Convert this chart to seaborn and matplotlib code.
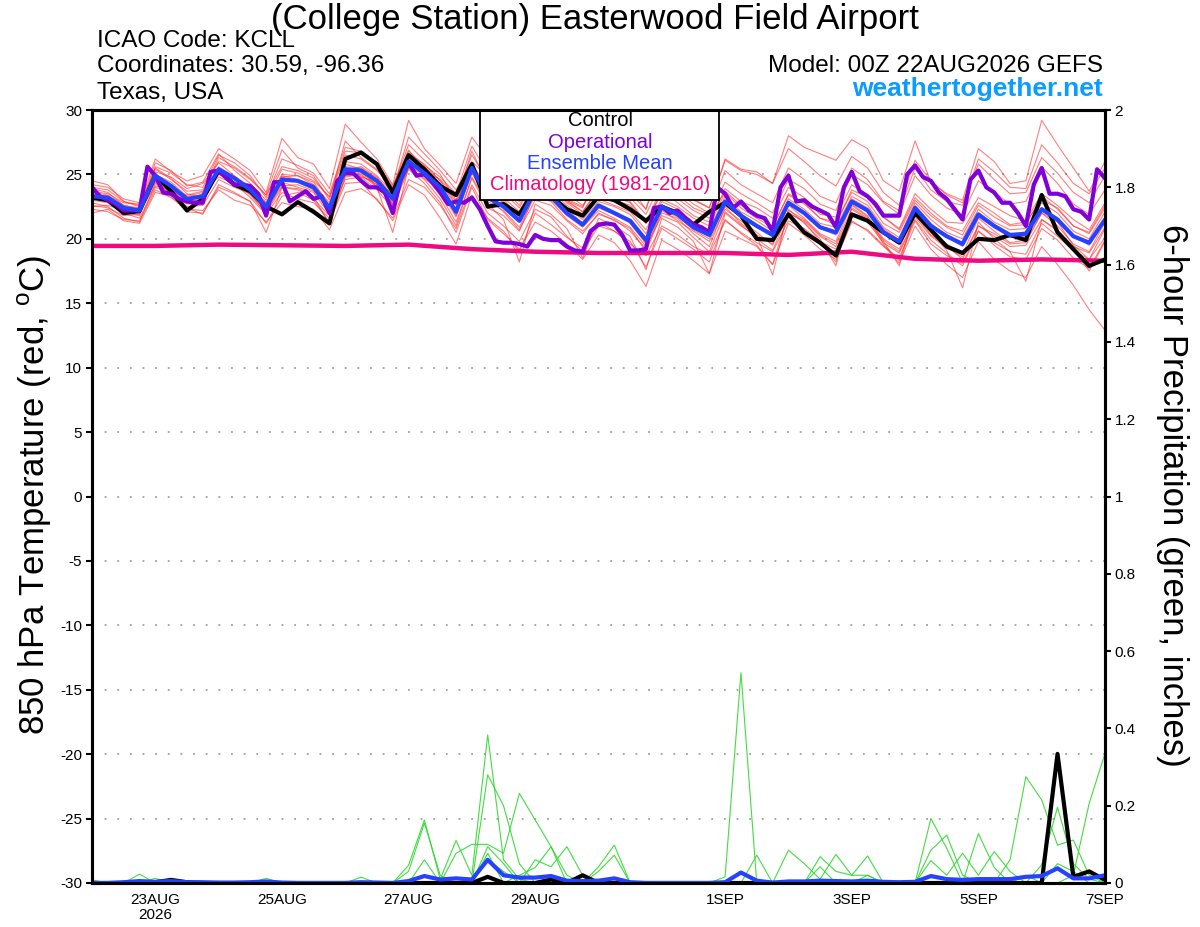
import numpy as np
import pandas as pd
import matplotlib
matplotlib.use('Agg')
import matplotlib.pyplot as plt
from matplotlib.patches import Rectangle
import seaborn as sns

# forecast times: GEFS every 6 h, operational every 3 h, climatology daily
steps = pd.date_range('2026-08-22 00:00', periods=65, freq='6h')
op_steps = pd.date_range('2026-08-22 00:00', periods=129, freq='3h')
clim_days = pd.date_range('2026-08-22', periods=17, freq='D')

ctrl_temp = [23.2, 23.0, 22.0, 22.15, 24.9, 23.7, 22.2, 23.1, 25.3, 24.2, 23.7, 22.5, 21.9, 22.85, 22.1, 21.2,
             26.2, 26.7, 25.8, 23.6, 26.5, 25.4, 24.1, 23.4, 25.8, 22.5, 22.7, 21.9, 23.9, 23.3, 22.3, 21.8,
             23.3, 23.0, 22.3, 21.4, 22.5, 22.0, 21.1, 22.1, 22.8, 21.8, 20.0, 19.9, 21.9, 20.5, 19.7, 18.7,
             21.9, 21.4, 20.5, 19.7, 22.0, 20.7, 19.4, 18.9, 20.0, 19.9, 20.3, 19.9, 23.4, 20.5, 19.2, 17.9, 18.4]

mean_temp = [23.3, 23.2, 22.4, 22.2, 24.9, 24.1, 23.1, 23.3, 25.4, 24.7, 23.8, 22.5, 24.6, 24.5, 24.0, 22.4,
             25.4, 25.3, 24.5, 23.1, 26.0, 25.1, 24.0, 22.1, 25.5, 23.2, 22.5, 21.4, 23.8, 23.3, 22.0, 21.1,
             22.6, 22.0, 21.4, 19.9, 22.5, 21.9, 20.9, 20.3, 22.9, 21.8, 21.0, 20.3, 22.8, 22.0, 20.9, 20.5,
             22.9, 22.2, 20.5, 19.8, 22.4, 21.0, 20.2, 19.6, 21.9, 21.0, 20.3, 20.4, 22.3, 21.5, 20.2, 19.7, 21.5]

op_temp = [24.0, 23.3, 23.0, 22.7, 22.2, 22.2, 22.2, 25.6, 24.9, 23.6, 23.5, 23.1, 22.9, 22.8, 22.8, 25.2,
           25.3, 24.7, 24.2, 24.2, 24.1, 23.5, 21.8, 24.4, 24.4, 22.9, 23.3, 23.7, 23.1, 23.3, 22.0, 24.5,
           25.1,
           25.1, 24.5, 24.0, 24.0, 23.6, 22.0, 24.6, 25.9, 24.9, 25.0, 24.4, 23.6, 22.7, 22.9, 22.8, 23.2,
           22.3, 21.0, 19.8, 19.7, 19.7, 19.6, 19.4, 20.3, 20.0, 19.9, 19.9, 19.4, 19.1, 19.0, 20.6, 21.1,
           21.2, 21.1, 20.3, 19.1, 19.1, 19.2, 22.4, 22.5, 22.0, 22.2, 21.6, 21.1, 20.9, 20.5, 24.0, 23.5,
           22.4, 22.9, 22.2, 21.8, 21.6, 20.6, 24.0, 24.9, 22.9, 23.0, 22.5, 22.2, 21.9, 20.9, 24.0, 25.2,
           23.7, 23.3, 22.7, 21.8, 21.8, 21.8, 25.0, 25.7, 24.8, 24.5, 23.6, 23.1, 22.3, 21.5, 24.6, 25.3,
           24.0, 23.6, 22.8, 22.8, 22.0, 21.0, 24.2, 25.5, 23.5, 23.5, 23.3, 22.3, 22.1, 21.5, 25.4, 24.7]

clim_temp = [19.45, 19.45, 19.55, 19.5, 19.45, 19.55, 19.2, 19.0, 18.9, 18.9, 18.9, 18.75, 19.0, 18.45,
             18.3, 18.4, 18.3]

# ensemble members, 850 hPa temperature
m01 = [24.5, 24.2, 22.9, 22.6, 26.2, 25.2, 24.5, 24.9, 27.0, 26.2, 25.3, 23.6, 27.8, 26.3, 25.8, 23.9,
       28.9, 27.5, 26.2, 24.2, 29.2, 27.0, 25.7, 24.3, 27.9, 26.2, 25.0, 23.0, 25.5, 24.5, 23.0, 22.4,
       25.4, 25.0, 24.0, 22.3, 26.3, 24.3, 23.0, 22.4, 26.1, 25.3, 25.0, 24.3, 28.0, 27.1, 26.6, 26.1,
       27.7, 27.0, 24.5, 23.7, 27.6, 24.4, 23.5, 23.0, 27.0, 26.0, 24.3, 24.5, 29.2, 27.3, 25.5, 23.7, 26.0]
m02 = [22.0, 22.3, 21.4, 21.2, 23.6, 23.3, 22.1, 22.0, 24.0, 23.5, 22.9, 21.2, 23.3, 23.6, 23.0, 21.3,
       24.3, 24.4, 23.0, 21.6, 24.6, 24.0, 22.6, 20.8, 24.2, 22.0, 21.0, 19.8, 22.3, 21.7, 20.2, 19.0,
       21.0, 20.6, 19.8, 17.8, 20.8, 20.0, 19.2, 18.2, 21.5, 20.4, 19.5, 18.0, 21.2, 20.3, 19.2, 18.4,
       21.3, 20.7, 19.5, 18.1, 21.0, 19.2, 18.0, 17.0, 19.8, 18.4, 17.5, 17.0, 19.4, 18.0, 16.4, 14.5, 12.9]
m03 = [23.0, 22.8, 22.0, 21.6, 24.0, 23.6, 22.5, 22.6, 24.6, 24.0, 23.5, 22.0, 24.0, 23.8, 23.1, 21.8,
       24.6, 24.8, 23.8, 22.4, 25.4, 24.3, 22.8, 20.5, 24.0, 21.5, 20.4, 19.2, 21.3, 20.6, 19.6, 18.4,
       20.3, 19.7, 18.3, 16.3, 19.9, 19.2, 18.3, 17.3, 20.6, 20.0, 19.4, 18.0, 22.0, 21.3, 19.8, 18.2,
       22.4, 21.6, 19.6, 18.3, 21.9, 20.3, 19.5, 18.4, 21.0, 20.4, 19.6, 19.7, 22.0, 21.3, 19.5, 18.4, 20.8]
m04 = [23.9, 23.6, 22.6, 22.4, 25.4, 24.6, 23.7, 23.8, 26.0, 25.5, 24.6, 23.4, 25.6, 25.3, 24.7, 23.2,
       26.5, 26.2, 25.3, 24.0, 27.3, 26.1, 25.0, 23.0, 26.8, 24.3, 23.6, 22.4, 24.8, 24.2, 23.0, 22.1,
       23.8, 23.0, 22.6, 21.2, 23.7, 22.8, 21.8, 21.3, 23.9, 22.9, 22.4, 21.6, 24.0, 23.2, 21.9, 21.7,
       24.2, 23.3, 21.7, 20.8, 23.5, 22.3, 21.3, 21.2, 23.2, 22.5, 21.8, 21.4, 23.5, 22.6, 21.5, 20.7, 22.8]
m05 = [23.4, 23.0, 22.2, 22.0, 24.5, 23.9, 22.8, 23.1, 25.1, 24.4, 23.4, 22.0, 24.4, 24.0, 23.6, 21.9,
       25.2, 25.6, 24.8, 23.3, 26.3, 25.6, 24.5, 22.7, 25.9, 23.7, 22.9, 21.7, 24.2, 23.5, 22.4, 21.5,
       22.9, 22.5, 21.9, 20.4, 22.9, 22.3, 21.3, 20.7, 23.3, 22.1, 21.4, 20.6, 23.1, 22.3, 21.2, 20.9,
       23.3, 22.6, 20.9, 20.1, 22.8, 21.5, 20.5, 20.0, 22.3, 21.3, 20.7, 20.8, 22.8, 22.0, 20.6, 20.0, 22.1]
m06 = [22.6, 22.4, 21.8, 21.9, 25.6, 25.1, 24.2, 24.0, 26.5, 25.9, 24.9, 23.2, 26.2, 25.7, 25.1, 23.5,
       27.1, 26.8, 25.7, 23.8, 27.9, 26.6, 25.3, 23.8, 26.0, 24.8, 24.2, 22.9, 24.4, 24.0, 23.1, 22.5,
       24.6, 24.3, 23.5, 22.3, 25.7, 24.4, 23.1, 22.4, 26.2, 25.4, 25.2, 24.3, 27.0, 26.0, 24.9, 24.1,
       26.4, 25.5, 23.6, 22.6, 26.1, 24.5, 23.4, 22.8, 25.8, 24.6, 23.5, 23.6, 26.3, 25.1, 23.6, 22.8, 24.9]
m07 = [22.3, 22.1, 21.5, 21.4, 23.8, 23.2, 22.3, 22.2, 23.8, 23.0, 22.6, 21.3, 22.8, 22.5, 22.3, 20.7,
       23.6, 23.9, 23.1, 21.4, 24.2, 23.4, 21.6, 19.6, 23.4, 21.6, 20.6, 19.0, 22.0, 21.1, 20.1, 19.3,
       21.3, 20.6, 19.6, 18.7, 21.0, 20.3, 19.4, 18.8, 21.4, 20.5, 19.7, 19.0, 21.4, 20.8, 19.8, 19.2,
       21.4, 20.6, 19.4, 18.5, 21.4, 19.6, 18.7, 18.1, 20.6, 19.7, 19.0, 18.8, 21.2, 20.2, 19.1, 18.4, 20.1]
m08 = [23.7, 23.5, 22.8, 22.7, 25.2, 24.8, 23.9, 24.3, 25.9, 24.9, 24.0, 22.8, 25.0, 24.9, 24.4, 22.6,
       25.8, 25.4, 24.0, 22.8, 26.4, 25.6, 24.2, 21.8, 25.4, 23.2, 22.1, 20.7, 23.0, 22.6, 21.4, 20.4,
       22.0, 21.4, 20.8, 19.0, 22.0, 21.6, 20.4, 19.4, 22.5, 21.2, 20.3, 19.6, 22.6, 21.6, 20.4, 19.8,
       22.7, 21.8, 20.0, 19.2, 22.2, 20.5, 19.6, 18.8, 21.6, 20.6, 19.7, 19.9, 22.0, 21.0, 19.6, 19.0, 21.3]
m09 = [24.2, 24.0, 23.1, 22.8, 24.6, 23.8, 23.0, 23.5, 25.0, 24.4, 23.6, 22.2, 24.8, 24.9, 24.2, 22.0,
       25.0, 24.8, 24.4, 22.9, 25.8, 25.2, 24.1, 22.3, 25.2, 23.9, 23.1, 21.6, 24.0, 23.6, 22.3, 21.2,
       22.4, 21.9, 21.2, 19.6, 22.3, 21.7, 20.7, 20.0, 22.6, 21.7, 20.9, 20.2, 22.9, 22.1, 20.8, 20.3,
       23.1, 22.4, 20.8, 19.9, 22.6, 21.2, 20.2, 19.4, 21.7, 20.9, 20.1, 20.2, 22.4, 21.5, 20.2, 19.5, 21.6]
m10 = [23.1, 22.9, 22.1, 21.8, 25.0, 24.4, 23.3, 23.6, 26.3, 25.6, 24.7, 23.4, 26.9, 25.5, 24.9, 23.0,
       27.6, 26.3, 25.4, 23.9, 26.9, 25.3, 24.6, 23.3, 26.5, 24.6, 23.9, 22.6, 25.0, 23.9, 22.8, 21.9,
       23.4, 23.3, 22.8, 21.2, 23.6, 23.1, 22.2, 21.6, 23.7, 22.6, 21.9, 20.9, 23.5, 22.8, 21.6, 21.1,
       23.8, 23.2, 21.7, 20.7, 23.2, 22.0, 21.0, 20.6, 22.8, 22.0, 21.1, 21.3, 23.0, 22.4, 21.0, 20.4, 22.4]
m11 = [22.8, 22.5, 21.6, 21.3, 24.3, 23.5, 22.4, 21.9, 24.2, 23.6, 22.9, 20.5, 24.0, 23.9, 23.3, 21.1,
       24.8, 25.0, 24.0, 20.5, 25.6, 24.6, 23.1, 21.0, 24.8, 22.7, 21.5, 18.2, 22.7, 21.9, 20.8, 18.5,
       21.6, 21.0, 20.2, 17.6, 21.6, 20.9, 19.8, 17.3, 22.0, 21.0, 20.2, 17.2, 22.3, 21.2, 20.0, 17.9,
       22.6, 21.7, 19.8, 17.9, 22.1, 20.5, 19.1, 16.2, 21.3, 20.0, 19.0, 16.7, 21.5, 20.6, 19.2, 17.5, 19.8]
m12 = [23.5, 23.3, 22.5, 22.1, 24.8, 24.0, 23.0, 23.0, 25.6, 24.8, 24.1, 22.8, 24.8, 24.4, 23.8, 22.4,
       25.6, 25.5, 24.7, 23.4, 26.2, 25.3, 24.3, 22.6, 25.8, 23.6, 22.8, 21.8, 24.3, 23.9, 22.9, 22.1,
       23.9, 23.5, 22.9, 21.3, 24.0, 23.4, 22.4, 21.9, 24.4, 23.5, 22.8, 22.0, 24.6, 23.9, 22.7, 22.2,
       25.0, 24.2, 22.8, 21.9, 24.9, 23.4, 22.4, 21.9, 24.5, 23.6, 22.7, 22.9, 25.6, 24.3, 22.7, 21.9, 23.8]
m13 = [22.5, 22.6, 22.2, 22.1, 24.1, 23.8, 23.4, 23.7, 24.8, 24.3, 23.5, 22.3, 24.1, 24.2, 23.7, 22.2,
       25.1, 24.9, 24.2, 22.6, 25.5, 24.7, 23.7, 21.7, 25.1, 22.9, 22.2, 20.9, 23.4, 22.9, 21.5, 20.6,
       21.9, 21.5, 20.6, 19.2, 22.2, 21.4, 20.6, 19.8, 22.3, 21.4, 20.5, 19.5, 22.2, 21.5, 20.3, 19.6,
       22.3, 21.5, 19.9, 19.0, 21.7, 20.2, 19.3, 18.6, 21.0, 20.2, 19.4, 19.5, 21.5, 20.7, 19.4, 18.9, 20.9]
m14 = [24.0, 23.8, 22.9, 22.5, 25.5, 24.7, 23.5, 23.2, 25.2, 24.6, 23.7, 22.6, 24.9, 24.6, 24.2, 22.8,
       26.0, 25.8, 24.9, 23.6, 26.6, 25.8, 24.5, 22.9, 25.8, 23.9, 23.2, 22.1, 24.4, 23.7, 22.6, 21.7,
       23.1, 22.6, 22.1, 20.7, 23.1, 22.5, 21.6, 21.0, 23.6, 22.4, 21.6, 20.9, 23.4, 22.7, 21.6, 21.3,
       23.6, 22.9, 21.2, 20.5, 23.0, 21.8, 20.9, 20.3, 22.6, 21.7, 21.0, 21.1, 23.3, 22.3, 21.0, 20.5, 22.6]
m15 = [23.2, 23.0, 22.3, 22.0, 24.4, 23.6, 22.7, 22.8, 25.3, 24.3, 23.2, 21.9, 23.6, 23.1, 22.8, 21.6,
       24.9, 25.1, 24.2, 22.7, 25.7, 24.9, 23.4, 21.3, 24.7, 22.4, 21.8, 20.6, 23.6, 23.0, 21.8, 20.9,
       22.2, 21.6, 20.9, 19.4, 21.8, 21.3, 20.1, 19.0, 22.1, 21.1, 20.0, 19.1, 22.0, 21.4, 20.2, 19.4,
       22.0, 21.3, 19.7, 18.9, 21.5, 19.9, 18.9, 17.9, 20.6, 19.5, 18.6, 18.4, 20.8, 19.9, 18.5, 17.7, 19.9]
m16 = [23.6, 23.4, 22.6, 22.3, 25.9, 25.3, 24.1, 24.4, 26.6, 25.3, 24.3, 23.0, 25.4, 25.1, 24.5, 23.3,
       26.8, 26.7, 25.9, 24.1, 26.8, 25.7, 24.8, 23.5, 27.2, 25.1, 24.5, 23.1, 25.3, 24.6, 23.5, 22.6,
       24.2, 23.9, 23.2, 21.9, 24.5, 23.7, 22.7, 22.0, 25.3, 24.2, 23.5, 22.8, 25.5, 24.6, 23.3, 22.8,
       25.5, 24.6, 22.9, 22.2, 25.5, 23.8, 22.9, 22.6, 26.2, 25.2, 24.0, 23.9, 27.3, 25.9, 24.3, 23.5, 25.5]

# 6-hour precipitation (inches)
ctrl_rain = [0, 0, 0, 0.002, 0.002, 0.008, 0.002, 0, 0, 0, 0, 0, 0, 0, 0, 0,
             0, 0, 0, 0, 0, 0, 0, 0, 0, 0.016, 0, 0, 0, 0.009, 0, 0.02,
             0, 0, 0, 0, 0, 0, 0, 0, 0, 0, 0, 0, 0, 0, 0, 0,
             0, 0, 0, 0, 0, 0, 0, 0, 0, 0, 0, 0, 0, 0.334, 0.016, 0.03, 0.008]
mean_rain = [0, 0, 0.002, 0.005, 0.003, 0.005, 0.002, 0.002, 0.001, 0.001, 0.002, 0.004, 0.001, 0, 0, 0,
             0, 0.002, 0.001, 0, 0.005, 0.018, 0.009, 0.012, 0.009, 0.06, 0.02, 0.014, 0.014, 0.018, 0.006, 0.005,
             0.006, 0.012, 0.002, 0, 0, 0, 0, 0, 0.002, 0.027, 0.006, 0.001, 0.004, 0.004, 0.006, 0.005,
             0.004, 0.006, 0.003, 0.002, 0.003, 0.018, 0.01, 0.008, 0.01, 0.01, 0.01, 0.016, 0.018, 0.038, 0.012,
             0.012, 0.02]
# members with rain: (step, inches); every other step is dry
rain_a = [(0, 0.008), (20, 0.046), (21, 0.163), (22, 0.01), (23, 0.11), (24, 0.02), (25, 0.383), (26, 0.06),
          (27, 0.01), (53, 0.167), (54, 0.09), (56, 0.128), (57, 0.04)]
rain_b = [(3, 0.023), (20, 0.03), (21, 0.155), (22, 0.02), (25, 0.28), (26, 0.2), (27, 0.05), (53, 0.085),
          (54, 0.124), (55, 0.02)]
rain_c = [(4, 0.012), (21, 0.06), (23, 0.077), (24, 0.10), (25, 0.10), (26, 0.077), (27, 0.232), (28, 0.163),
          (29, 0.094), (30, 0.02), (53, 0.058), (54, 0.02), (55, 0.077), (56, 0.02), (57, 0.081), (58, 0.03)]
rain_d = [(11, 0.012), (25, 0.094), (26, 0.05), (28, 0.06), (29, 0.042), (30, 0.094), (31, 0.02), (58, 0.06),
          (59, 0.275), (60, 0.215), (61, 0.098), (62, 0.111), (63, 0.02)]
rain_e = [(17, 0.015), (25, 0.077), (27, 0.02), (28, 0.04), (29, 0.094), (32, 0.042), (33, 0.098), (60, 0.047),
          (61, 0.196), (62, 0.05), (63, 0.01)]
rain_f = [(25, 0.06), (26, 0.03), (32, 0.03), (33, 0.072), (62, 0.02), (63, 0.206), (64, 0.335)]
rain_g = [(40, 0.016), (41, 0.544), (46, 0.042), (49, 0.02)]
rain_h = [(42, 0.072), (44, 0.085), (45, 0.05), (46, 0.01), (47, 0.074), (48, 0.02), (49, 0.07), (59, 0.02)]
rain_i = [(46, 0.068), (47, 0.03), (48, 0.02), (49, 0.02), (61, 0.05), (62, 0.03)]

tick_days = ['2026-08-23', '2026-08-25', '2026-08-27', '2026-08-29', '2026-09-01', '2026-09-03',
             '2026-09-05', '2026-09-07']
tick_names = ['23AUG\n2026', '25AUG', '27AUG', '29AUG', '1SEP', '3SEP', '5SEP', '7SEP']
temp_ticks = list(range(-30, 31, 5))
rain_ticks = [0, 0.2, 0.4, 0.6, 0.8, 1, 1.2, 1.4, 1.6, 1.8, 2]
rain_tick_names = ['0', '0.2', '0.4', '0.6', '0.8', '1', '1.2', '1.4', '1.6', '1.8', '2']

legend_names = ['Control', 'Operational', 'Ensemble Mean', 'Climatology (1981-2010)']
legend_colors = ['black', '#7f00d9', '#2442ff', '#ee0a80']

sns.set_style('white')
plt.rcParams['font.family'] = ['Liberation Sans', 'DejaVu Sans']
plt.rcParams['mathtext.fontset'] = 'custom'
plt.rcParams['mathtext.rm'] = 'Liberation Sans'
plt.rcParams['text.color'] = 'black'
plt.rcParams['xtick.color'] = 'black'
plt.rcParams['ytick.color'] = 'black'
plt.rcParams['axes.labelcolor'] = 'black'

members = [m01, m02, m03, m04, m05, m06, m07, m08, m09, m10, m11, m12, m13, m14, m15, m16]
temp_long = pd.DataFrame({
    'time': np.tile(steps.values, len(members)),
    'temp': np.concatenate(members),
    'member': np.repeat(np.arange(len(members)), len(steps)),
})

rain_members = [rain_a, rain_b, rain_c, rain_d, rain_e, rain_f, rain_g, rain_h, rain_i]
rain_rows = []
for k, events in enumerate(rain_members):
    vals = np.zeros(len(steps))
    for i, v in events:
        vals[i] = v
    rain_rows.append(pd.DataFrame({'time': steps, 'rain': vals, 'member': k}))
rain_long = pd.concat(rain_rows, ignore_index=True)

fig = plt.figure(figsize=(12, 9.27), dpi=100)
ax = fig.add_axes([92 / 1200, 1 - 883 / 927, (1105 - 92) / 1200, (883 - 110) / 927])

sns.lineplot(data=temp_long, x='time', y='temp', units='member', estimator=None,
             color='#ff2a2a', lw=0.8, alpha=0.6, legend=False, ax=ax)
sns.lineplot(x=clim_days, y=clim_temp, color=legend_colors[3], lw=3.2, ax=ax)
sns.lineplot(x=steps, y=ctrl_temp, color=legend_colors[0], lw=3, ax=ax)
sns.lineplot(x=op_steps, y=op_temp, color=legend_colors[1], lw=3, ax=ax)
sns.lineplot(x=steps, y=mean_temp, color=legend_colors[2], lw=3, ax=ax)

ax.set_xlim(steps[0], steps[-1])
ax.set_ylim(-30, 30)
ax.set_yticks(temp_ticks)
ax.set_yticklabels([str(t) for t in temp_ticks], fontsize=11)
ax.set_xticks(pd.to_datetime(tick_days))
ax.set_xticklabels(tick_names, fontsize=11, linespacing=1.1)
ax.yaxis.grid(True, linestyle=(0, (1, 6)), color='#a0a0a0', lw=1.3)
ax.xaxis.grid(False)
ax.set_xlabel('')
ax.set_ylabel('')
ax.tick_params(axis='both', direction='out', length=4, width=1.5, color='black', pad=3)
for sp in ax.spines.values():
    sp.set_color('black')
    sp.set_linewidth(2.2)

# legend box with coloured labels
ax.add_patch(Rectangle((0.383, 0.8836), 0.236, 0.1164, transform=ax.transAxes,
                       facecolor='white', edgecolor='black', lw=1.3, zorder=5))
for name, col, yy in zip(legend_names, legend_colors, [0.9858, 0.9586, 0.9314, 0.903]):
    ax.text(0.5015, yy, name, color=col, fontsize=14.5, ha='center', va='center',
            transform=ax.transAxes, zorder=6)

ax2 = ax.twinx()
sns.lineplot(data=rain_long, x='time', y='rain', units='member', estimator=None,
             color='#2fd82f', lw=0.8, alpha=0.9, legend=False, ax=ax2)
sns.lineplot(x=steps, y=ctrl_rain, color='black', lw=3, ax=ax2)
sns.lineplot(x=steps, y=mean_rain, color=legend_colors[2], lw=3, ax=ax2)
ax2.set_ylim(0, 2)
ax2.set_xlim(steps[0], steps[-1])
ax2.set_yticks(rain_ticks)
ax2.set_yticklabels(rain_tick_names, fontsize=11)
ax2.set_ylabel('')
ax2.grid(False)
ax2.tick_params(axis='y', direction='out', length=4, width=1.5, color='black', pad=3)
for sp in ax2.spines.values():
    sp.set_color('black')
    sp.set_linewidth(2.2)

# header texts
fig.text(595 / 1200, 1 - 29 / 927, '(College Station) Easterwood Field Airport', fontsize=25,
         ha='center', va='baseline')
fig.text(97 / 1200, 1 - 47 / 927, 'ICAO Code: KCLL', fontsize=17.5, ha='left', va='baseline')
fig.text(97 / 1200, 1 - 72 / 927, 'Coordinates: 30.59, -96.36', fontsize=17.5, ha='left', va='baseline')
fig.text(97 / 1200, 1 - 99 / 927, 'Texas, USA', fontsize=17.5, ha='left', va='baseline')
fig.text(1103 / 1200, 1 - 72 / 927, 'Model: 00Z 22AUG2026 GEFS', fontsize=17.5, ha='right', va='baseline')
fig.text(1103 / 1200, 1 - 96 / 927, 'weathertogether.net', fontsize=19, fontweight='bold',
         color='#0a9cff', ha='right', va='baseline')

fig.text(35 / 1200, 1 - 495 / 927, '850 hPa Temperature (red, $^{\\mathrm{o}}$C)', fontsize=25,
         rotation=90, ha='center', va='center')
fig.text(1172 / 1200, 1 - 495 / 927, '6-hour Precipitation (green, inches)', fontsize=25,
         rotation=270, ha='center', va='center')

fig.savefig('out.png', dpi=100)
